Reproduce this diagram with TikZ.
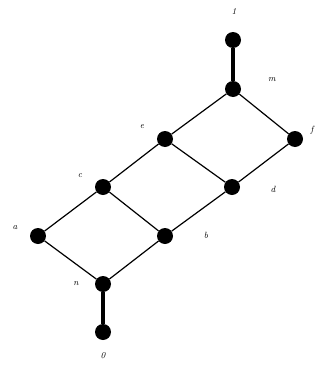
\documentclass[tikz,border=0pt]{standalone}
\begin{document}
\begin{tikzpicture}[x=1pt,y=-1pt,
  dot/.style={circle,fill=black,inner sep=0pt,minimum size=16pt},
  lbl/.style={font=\small\itshape,inner sep=0pt},
  thin edge/.style={line width=1.2pt},
  thick edge/.style={line width=4pt}]
\useasboundingbox (0,0) rectangle (320,367);
\node[dot] (one) at (233,40) {};
\node[dot] (m) at (233,89) {};
\node[dot] (e) at (165,139) {};
\node[dot] (f) at (295,139) {};
\node[dot] (c) at (103,187) {};
\node[dot] (d) at (232,187) {};
\node[dot] (a) at (38,236) {};
\node[dot] (b) at (165,236) {};
\node[dot] (n) at (103,284) {};
\node[dot] (zero) at (103,332) {};
\draw[thick edge] (one) -- (m);
\draw[thick edge] (n) -- (zero);
\draw[thin edge] (m) -- (e) (m) -- (f) (e) -- (c) (e) -- (d) (f) -- (d)
  (c) -- (a) (c) -- (b) (d) -- (b) (a) -- (n) (b) -- (n);
\node[lbl] (l1) at (234,12) {1};
\node[lbl] (lm) at (272,80) {m};
\node[lbl] (le) at (142,127) {e};
\node[lbl] (lf) at (312,130) {f};
\node[lbl] (lc) at (80,176) {c};
\node[lbl] (ld) at (273,189) {d};
\node[lbl] (la) at (15,228) {a};
\node[lbl] (lb) at (206,235) {b};
\node[lbl] (ln) at (76,284) {n};
\node[lbl] (l0) at (103,356) {0};
\end{tikzpicture}
\end{document}
